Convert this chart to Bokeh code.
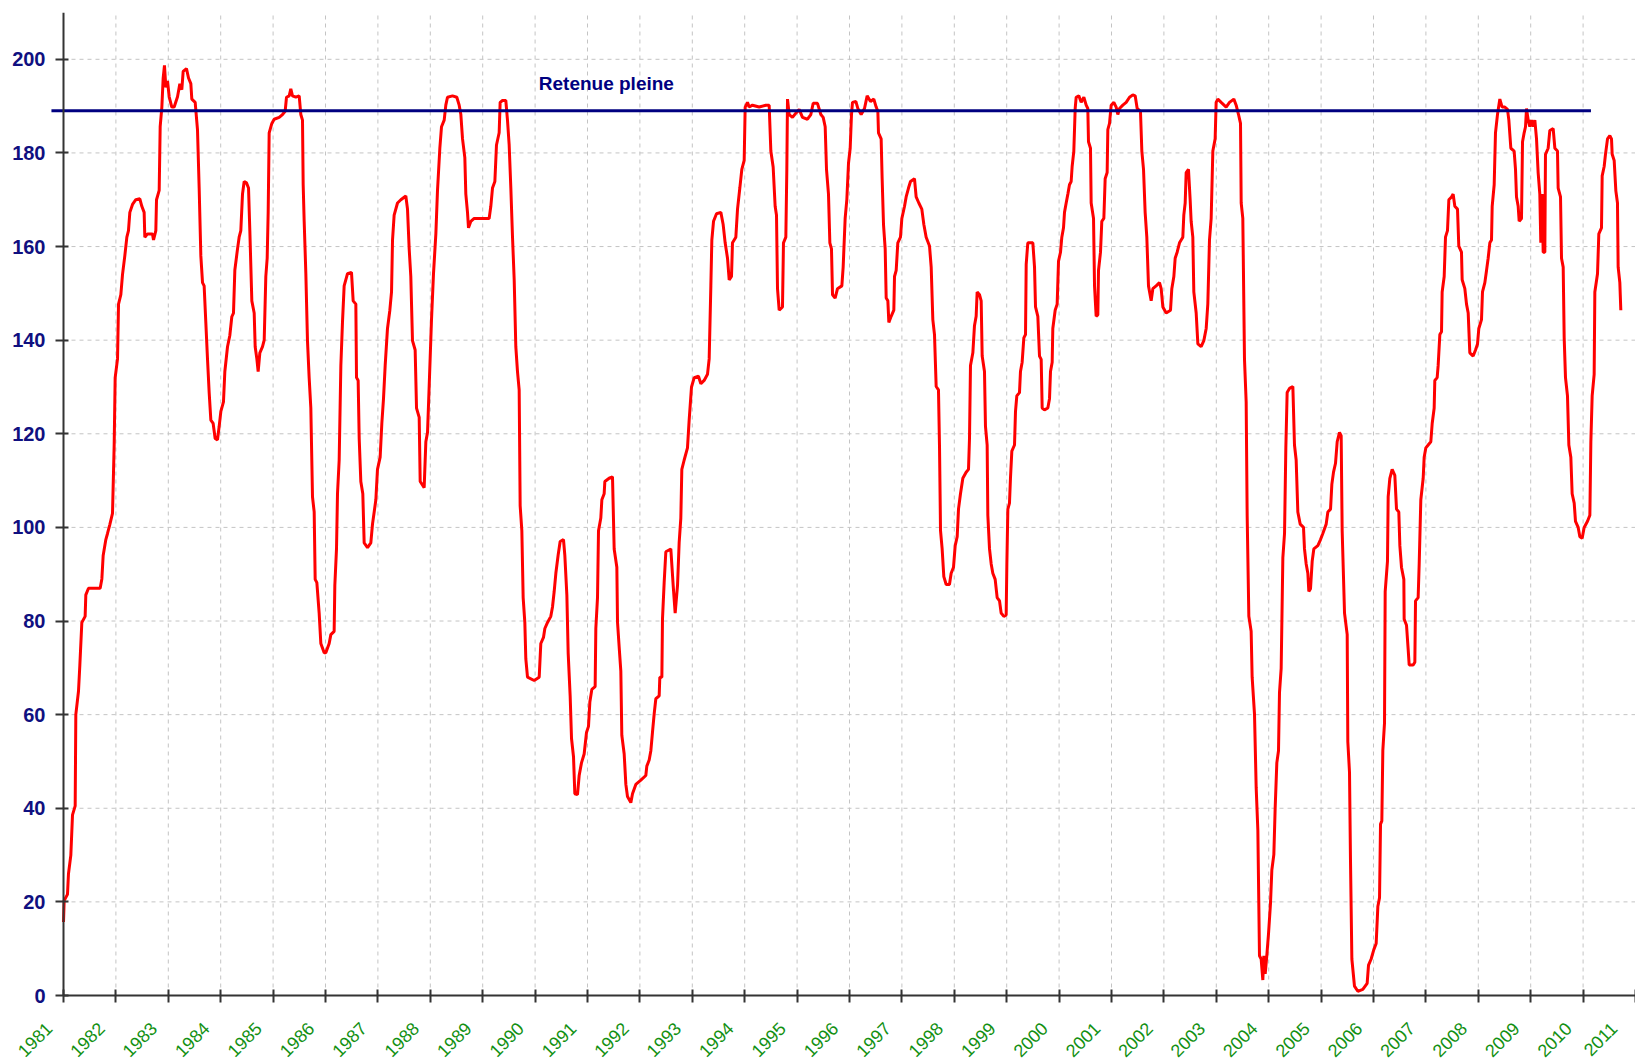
import math
from bokeh.plotting import figure
from bokeh.models import Range1d, FixedTicker
from bokeh.embed import file_html
from bokeh.resources import INLINE
from bokeh.core.properties import value

# ---------------- data ----------------
years = list(range(1981, 2012))
year_labels = [str(y) for y in years]
level_ticks = list(range(0, 201, 20))
level_top = 210

full_level = 189.0            # "Retenue pleine"
full_level_span = [1980.77, 2010.15]
full_level_label = "Retenue pleine"

# (decimal year, level)
seg_1981_1985 = [
    (1981.000, 15.7), (1981.013, 20.3), (1981.076, 21.6), (1981.095, 26.0), (1981.140, 30.0),
    (1981.172, 38.6), (1981.223, 40.5), (1981.235, 60.0), (1981.286, 65.0), (1981.312, 70.6),
    (1981.350, 79.7), (1981.413, 81.0), (1981.426, 85.6), (1981.477, 87.0), (1981.617, 87.0),
    (1981.700, 87.0), (1981.732, 89.0), (1981.757, 94.0), (1981.808, 97.4), (1981.840, 98.7),
    (1981.884, 100.6), (1981.935, 103.0), (1981.967, 117.6), (1981.986, 132.0), (1982.031, 136.0),
    (1982.050, 147.7), (1982.094, 149.7), (1982.126, 154.0), (1982.170, 158.0), (1982.209, 162.0),
    (1982.240, 163.4), (1982.266, 167.3), (1982.317, 169.0), (1982.380, 170.0), (1982.457, 170.2),
    (1982.495, 168.6), (1982.539, 167.3), (1982.552, 162.0), (1982.603, 162.7), (1982.698, 162.7),
    (1982.718, 161.4), (1982.762, 163.4), (1982.775, 170.0), (1982.826, 172.0), (1982.845, 185.6),
    (1982.877, 189.8), (1982.902, 196.0), (1982.927, 198.7), (1982.953, 194.0), (1982.985, 195.4),
    (1983.017, 192.0), (1983.067, 189.8), (1983.112, 189.8), (1983.176, 192.0), (1983.220, 194.8),
    (1983.258, 193.5), (1983.284, 197.4), (1983.347, 198.0), (1983.386, 196.0), (1983.430, 194.8),
    (1983.449, 191.5), (1983.513, 190.8), (1983.557, 185.0), (1983.589, 172.5), (1983.621, 158.0),
    (1983.653, 152.3), (1983.684, 151.6), (1983.716, 143.8), (1983.748, 136.0), (1983.780, 128.8),
    (1983.812, 122.9), (1983.856, 122.2), (1983.894, 119.0), (1983.939, 118.7), (1983.971, 121.6),
    (1984.003, 124.8), (1984.053, 126.8), (1984.079, 133.3), (1984.130, 138.6), (1984.174, 141.0),
    (1984.212, 145.0), (1984.244, 145.8), (1984.270, 155.0), (1984.321, 159.5), (1984.352, 162.0),
    (1984.384, 163.4), (1984.416, 171.2), (1984.448, 173.9), (1984.492, 173.6), (1984.531, 172.5),
    (1984.556, 163.4), (1984.594, 148.4), (1984.639, 145.8), (1984.658, 138.6), (1984.690, 136.0),
    (1984.715, 133.3), (1984.747, 137.3), (1984.798, 138.6), (1984.830, 140.0), (1984.861, 153.6),
    (1984.887, 157.5), (1984.906, 167.3), (1984.925, 184.3), (1984.976, 186.3), (1985.020, 187.2),
    (1985.116, 187.6), (1985.179, 188.2), (1985.230, 188.9), (1985.256, 191.9), (1985.307, 192.2),
    (1985.338, 193.7), (1985.370, 192.2), (1985.434, 191.9), (1985.498, 192.2), (1985.529, 188.2),
    (1985.561, 187.0), (1985.574, 173.2), (1985.593, 165.4), (1985.625, 154.2), (1985.656, 139.9),
    (1985.688, 132.0), (1985.720, 125.5), (1985.752, 106.5), (1985.784, 103.3), (1985.803, 88.9),
    (1985.835, 88.2), (1985.879, 81.7), (1985.911, 75.2), (1985.975, 73.2),
]

seg_1986_1990 = [
    (1986.006, 73.2), (1986.070, 75.2), (1986.102, 77.1), (1986.165, 77.8), (1986.178, 87.6),
    (1986.210, 95.4), (1986.229, 107.2), (1986.261, 114.4), (1986.293, 134.6), (1986.324, 143.8),
    (1986.356, 151.6), (1986.420, 154.2), (1986.496, 154.5), (1986.528, 148.4), (1986.579, 147.7),
    (1986.592, 132.0), (1986.623, 131.4), (1986.643, 119.0), (1986.674, 109.8), (1986.712, 107.2),
    (1986.738, 96.7), (1986.802, 95.7), (1986.865, 96.7), (1986.897, 100.7), (1986.929, 103.3),
    (1986.961, 105.9), (1986.992, 112.4), (1987.043, 115.0), (1987.075, 122.2), (1987.107, 127.5),
    (1987.139, 134.6), (1987.183, 142.5), (1987.228, 146.4), (1987.260, 150.3), (1987.279, 161.4),
    (1987.310, 166.7), (1987.374, 169.3), (1987.438, 170.0), (1987.533, 170.8), (1987.565, 168.0),
    (1987.597, 159.5), (1987.628, 153.6), (1987.660, 139.9), (1987.711, 137.9), (1987.737, 125.5),
    (1987.788, 123.5), (1987.807, 109.8), (1987.883, 108.5), (1987.915, 118.3), (1987.947, 120.3),
    (1987.978, 130.0), (1988.023, 144.4), (1988.061, 154.2), (1988.106, 162.7), (1988.137, 171.9),
    (1988.182, 181.0), (1988.214, 185.6), (1988.265, 187.0), (1988.296, 190.2), (1988.328, 191.9),
    (1988.424, 192.2), (1988.506, 191.9), (1988.551, 190.2), (1988.583, 188.2), (1988.615, 183.0),
    (1988.659, 179.0), (1988.678, 171.2), (1988.710, 167.3), (1988.729, 164.0), (1988.774, 165.4),
    (1988.837, 166.0), (1988.996, 166.0), (1989.123, 166.0), (1989.155, 168.6), (1989.187, 172.5),
    (1989.232, 173.9), (1989.263, 181.7), (1989.314, 184.3), (1989.333, 190.8), (1989.378, 191.2),
    (1989.441, 191.2), (1989.473, 187.0), (1989.505, 181.7), (1989.537, 172.5), (1989.569, 162.0),
    (1989.601, 152.9), (1989.632, 138.6), (1989.664, 133.3), (1989.696, 129.4), (1989.715, 104.6),
    (1989.747, 99.3), (1989.772, 85.0), (1989.804, 79.7), (1989.823, 71.9), (1989.855, 68.0),
    (1989.982, 67.3), (1990.078, 68.0), (1990.109, 75.2), (1990.160, 76.5), (1990.186, 78.4),
    (1990.237, 79.7), (1990.300, 81.0), (1990.332, 83.0), (1990.364, 86.3), (1990.396, 90.2),
    (1990.440, 94.1), (1990.478, 97.0), (1990.542, 97.4), (1990.567, 94.1), (1990.606, 85.6),
    (1990.631, 73.2), (1990.669, 64.0), (1990.695, 54.9), (1990.733, 51.0), (1990.758, 43.1),
    (1990.809, 42.9), (1990.841, 47.0), (1990.885, 49.7), (1990.936, 51.6), (1990.981, 56.2),
]

seg_1991_1995 = [
    (1991.019, 57.5), (1991.045, 62.7), (1991.083, 65.4), (1991.146, 66.0), (1991.159, 78.4),
    (1991.191, 85.0), (1991.210, 99.3), (1991.254, 102.0), (1991.274, 105.9), (1991.318, 107.2),
    (1991.331, 109.8), (1991.413, 110.5), (1991.477, 110.8), (1991.509, 95.4), (1991.560, 91.5),
    (1991.573, 79.7), (1991.604, 74.5), (1991.636, 69.3), (1991.655, 55.6), (1991.700, 51.6),
    (1991.732, 45.1), (1991.763, 42.5), (1991.827, 41.2), (1991.859, 43.1), (1991.922, 45.1),
    (1992.018, 46.0), (1992.113, 47.0), (1992.132, 49.0), (1992.177, 50.3), (1992.209, 52.3),
    (1992.240, 56.2), (1992.272, 60.1), (1992.304, 63.4), (1992.368, 64.0), (1992.380, 68.0),
    (1992.419, 68.0), (1992.431, 80.4), (1992.463, 88.2), (1992.495, 94.8), (1992.590, 95.4),
    (1992.635, 87.6), (1992.673, 81.7), (1992.718, 87.6), (1992.749, 96.7), (1992.781, 102.0),
    (1992.800, 112.4), (1992.845, 114.4), (1992.908, 117.0), (1992.940, 122.9), (1992.985, 130.0),
    (1993.036, 132.0), (1993.118, 132.3), (1993.163, 130.7), (1993.226, 131.4), (1993.290, 132.7),
    (1993.322, 136.0), (1993.354, 151.6), (1993.373, 161.4), (1993.405, 165.4), (1993.462, 167.0),
    (1993.545, 167.3), (1993.589, 164.7), (1993.627, 160.8), (1993.672, 157.5), (1993.704, 152.9),
    (1993.748, 153.6), (1993.767, 160.8), (1993.831, 162.0), (1993.863, 168.0), (1993.907, 172.5),
    (1993.945, 176.5), (1993.990, 178.4), (1994.009, 189.8), (1994.053, 190.8), (1994.085, 189.8),
    (1994.149, 190.2), (1994.276, 189.8), (1994.403, 190.2), (1994.467, 190.2), (1994.499, 180.4),
    (1994.543, 177.0), (1994.581, 168.6), (1994.607, 166.7), (1994.626, 151.0), (1994.658, 146.4),
    (1994.721, 147.1), (1994.740, 160.8), (1994.785, 162.0), (1994.804, 176.5), (1994.817, 191.5),
    (1994.849, 188.2), (1994.912, 187.6), (1994.976, 188.5), (1995.039, 189.3), (1995.103, 187.6),
    (1995.198, 187.2), (1995.262, 188.2), (1995.307, 190.6), (1995.389, 190.6), (1995.453, 188.2),
    (1995.498, 187.6), (1995.536, 185.6), (1995.561, 176.5), (1995.599, 171.2), (1995.625, 160.8),
    (1995.656, 159.5), (1995.676, 149.7), (1995.726, 149.0), (1995.771, 151.0), (1995.854, 151.6),
    (1995.879, 155.6), (1995.917, 166.0), (1995.949, 170.0), (1995.981, 177.8), (1996.013, 181.0),
    (1996.038, 188.2), (1996.057, 190.8), (1996.121, 191.0),
]

seg_1996_2000 = [
    (1996.159, 189.5), (1996.223, 188.2), (1996.286, 189.5), (1996.337, 192.2), (1996.401, 191.0),
    (1996.464, 191.5), (1996.509, 189.8), (1996.541, 188.9), (1996.553, 184.3), (1996.604, 183.0),
    (1996.623, 174.5), (1996.649, 164.7), (1996.681, 159.5), (1996.700, 149.0), (1996.732, 148.4),
    (1996.751, 143.8), (1996.795, 145.1), (1996.846, 146.4), (1996.859, 153.6), (1996.891, 154.9),
    (1996.922, 160.8), (1996.973, 162.0), (1996.999, 166.0), (1997.050, 168.6), (1997.081, 170.6),
    (1997.126, 172.5), (1997.164, 173.9), (1997.240, 174.5), (1997.272, 170.6), (1997.323, 169.3),
    (1997.380, 168.0), (1997.419, 164.7), (1997.463, 162.0), (1997.527, 160.1), (1997.559, 155.6),
    (1997.590, 144.4), (1997.622, 141.2), (1997.654, 130.1), (1997.698, 129.4), (1997.718, 117.0),
    (1997.737, 99.3), (1997.768, 95.4), (1997.800, 89.5), (1997.845, 87.8), (1997.908, 87.8),
    (1997.940, 90.2), (1997.985, 91.5), (1998.017, 96.1), (1998.055, 98.0), (1998.080, 103.9),
    (1998.118, 107.2), (1998.163, 110.5), (1998.226, 111.8), (1998.271, 112.4), (1998.290, 119.0),
    (1998.309, 134.6), (1998.354, 137.3), (1998.385, 143.1), (1998.417, 145.1), (1998.436, 150.3),
    (1998.481, 149.7), (1998.513, 148.4), (1998.532, 136.6), (1998.576, 133.3), (1998.595, 121.6),
    (1998.627, 117.6), (1998.640, 102.6), (1998.672, 95.4), (1998.704, 92.2), (1998.735, 90.2),
    (1998.780, 88.9), (1998.818, 85.0), (1998.863, 84.3), (1998.894, 81.7), (1998.945, 81.0),
    (1998.990, 81.3), (1999.003, 92.2), (1999.022, 103.9), (1999.053, 105.2), (1999.072, 110.5),
    (1999.098, 116.3), (1999.149, 117.6), (1999.168, 124.8), (1999.193, 128.1), (1999.244, 128.8),
    (1999.263, 133.3), (1999.295, 135.3), (1999.327, 140.5), (1999.359, 141.2), (1999.372, 156.2),
    (1999.403, 160.8), (1999.499, 160.8), (1999.531, 155.6), (1999.550, 147.1), (1999.594, 145.1),
    (1999.626, 136.6), (1999.658, 135.9), (1999.677, 125.5), (1999.721, 125.1), (1999.785, 125.5),
    (1999.817, 127.5), (1999.836, 133.3), (1999.868, 135.3), (1999.880, 142.5), (1999.925, 146.4),
    (1999.963, 147.7), (1999.989, 156.9), (2000.027, 158.8), (2000.052, 162.0), (2000.084, 164.0),
    (2000.103, 167.3), (2000.135, 169.3), (2000.167, 171.2), (2000.198, 173.2), (2000.230, 173.9),
    (2000.249, 177.1), (2000.281, 180.4), (2000.307, 189.5), (2000.326, 191.9), (2000.377, 192.2),
    (2000.421, 190.8), (2000.472, 191.9), (2000.517, 190.2), (2000.548, 189.5), (2000.561, 182.4),
    (2000.599, 181.0), (2000.612, 169.3), (2000.657, 166.0), (2000.676, 151.6), (2000.707, 145.1),
    (2000.739, 145.4), (2000.752, 154.9), (2000.790, 158.8), (2000.815, 165.4), (2000.854, 166.0),
    (2000.879, 174.5), (2000.917, 175.8), (2000.930, 185.0), (2000.962, 186.3), (2000.994, 190.2),
    (2001.045, 190.8), (2001.089, 189.8), (2001.121, 188.2), (2001.153, 189.5), (2001.216, 190.2),
    (2001.280, 190.8),
]

seg_2001_2005 = [
    (2001.344, 191.9), (2001.407, 192.4), (2001.452, 192.2), (2001.490, 189.5), (2001.553, 188.9),
    (2001.579, 180.4), (2001.611, 176.5), (2001.642, 167.3), (2001.674, 162.0), (2001.706, 151.6),
    (2001.757, 148.4), (2001.789, 151.0), (2001.852, 151.6), (2001.916, 152.3), (2001.948, 151.0),
    (2001.980, 147.1), (2002.043, 145.8), (2002.126, 146.4), (2002.151, 151.0), (2002.190, 153.6),
    (2002.215, 157.5), (2002.253, 158.8), (2002.298, 160.8), (2002.361, 162.0), (2002.380, 166.7),
    (2002.406, 169.3), (2002.425, 175.8), (2002.469, 176.5), (2002.501, 170.0), (2002.520, 165.4),
    (2002.552, 162.0), (2002.571, 150.3), (2002.616, 145.8), (2002.648, 139.2), (2002.711, 138.6),
    (2002.762, 139.9), (2002.807, 142.5), (2002.838, 147.7), (2002.870, 161.4), (2002.902, 166.0),
    (2002.934, 180.4), (2002.978, 183.0), (2002.997, 190.8), (2003.029, 191.5), (2003.093, 190.8),
    (2003.188, 189.8), (2003.252, 190.8), (2003.335, 191.5), (2003.379, 190.2), (2003.424, 188.2),
    (2003.462, 186.3), (2003.475, 169.3), (2003.506, 166.0), (2003.538, 135.9), (2003.570, 126.8),
    (2003.589, 102.6), (2003.621, 81.0), (2003.665, 77.8), (2003.684, 68.0), (2003.729, 60.1),
    (2003.761, 44.4), (2003.793, 35.3), (2003.824, 8.5), (2003.856, 7.8), (2003.888, 3.3),
    (2003.907, 8.5), (2003.933, 4.6), (2003.964, 8.5), (2003.996, 13.1), (2004.034, 19.6),
    (2004.060, 26.8), (2004.098, 30.1), (2004.123, 39.9), (2004.155, 49.7), (2004.187, 52.3),
    (2004.206, 64.7), (2004.238, 69.9), (2004.270, 93.5), (2004.302, 98.7), (2004.327, 117.0),
    (2004.352, 128.8), (2004.397, 129.7), (2004.461, 130.1), (2004.492, 117.6), (2004.524, 114.4),
    (2004.556, 103.3), (2004.601, 100.7), (2004.664, 100.0), (2004.683, 95.4), (2004.715, 92.2),
    (2004.747, 90.2), (2004.766, 86.3), (2004.798, 86.9), (2004.830, 92.8), (2004.861, 95.4),
    (2004.938, 96.1), (2004.989, 97.4), (2005.033, 98.7), (2005.097, 100.7), (2005.129, 103.3),
    (2005.180, 103.9), (2005.205, 109.2), (2005.237, 111.8), (2005.275, 113.7), (2005.307, 118.3),
    (2005.351, 120.3), (2005.383, 119.6), (2005.402, 99.3), (2005.447, 81.7), (2005.498, 77.1),
    (2005.510, 54.2), (2005.542, 47.7), (2005.561, 28.8), (2005.587, 7.8), (2005.637, 2.0),
    (2005.701, 0.9), (2005.796, 1.3), (2005.879, 2.6), (2005.905, 6.5), (2005.955, 7.8),
    (2006.006, 9.8), (2006.051, 11.1), (2006.083, 19.0), (2006.115, 20.9), (2006.134, 36.6),
    (2006.159, 37.3), (2006.178, 52.3), (2006.210, 58.2), (2006.223, 86.3),
]

seg_2006_2010 = [
    (2006.267, 92.8), (2006.280, 106.5), (2006.312, 110.5), (2006.356, 112.4), (2006.407, 111.1),
    (2006.439, 103.9), (2006.483, 103.3), (2006.503, 96.1), (2006.534, 91.5), (2006.579, 88.9),
    (2006.585, 80.4), (2006.630, 79.1), (2006.662, 73.9), (2006.681, 70.6), (2006.757, 70.6),
    (2006.789, 71.2), (2006.802, 84.3), (2006.852, 85.0), (2006.872, 92.2), (2006.903, 105.9),
    (2006.948, 110.5), (2006.967, 115.0), (2006.999, 117.0), (2007.043, 117.6), (2007.094, 118.3),
    (2007.120, 122.2), (2007.158, 125.5), (2007.170, 131.4), (2007.215, 132.0), (2007.234, 134.6),
    (2007.266, 141.2), (2007.298, 141.8), (2007.310, 150.3), (2007.349, 153.6), (2007.374, 162.0),
    (2007.412, 163.4), (2007.438, 170.0), (2007.489, 170.6), (2007.520, 171.2), (2007.552, 168.6),
    (2007.603, 168.0), (2007.628, 160.1), (2007.679, 158.8), (2007.692, 152.9), (2007.743, 151.0),
    (2007.775, 147.7), (2007.807, 145.8), (2007.838, 137.3), (2007.902, 136.6), (2007.947, 137.9),
    (2007.985, 139.2), (2008.010, 142.5), (2008.061, 144.4), (2008.080, 150.3), (2008.125, 152.3),
    (2008.157, 154.9), (2008.188, 157.5), (2008.220, 160.8), (2008.252, 161.4), (2008.265, 168.6),
    (2008.303, 173.2), (2008.328, 184.3), (2008.366, 188.2), (2008.411, 191.5), (2008.455, 189.8),
    (2008.506, 189.8), (2008.557, 189.3), (2008.583, 187.0), (2008.621, 181.0), (2008.684, 180.4),
    (2008.710, 176.5), (2008.729, 170.6), (2008.761, 168.6), (2008.780, 165.4), (2008.824, 166.0),
    (2008.844, 182.4), (2008.875, 184.3), (2008.901, 185.6), (2008.920, 189.5), (2008.952, 187.0),
    (2008.983, 185.6), (2009.015, 187.0), (2009.047, 185.6), (2009.079, 187.0), (2009.111, 183.0),
    (2009.142, 175.8), (2009.174, 171.2), (2009.193, 160.8), (2009.219, 171.2), (2009.238, 158.8),
    (2009.270, 158.8), (2009.282, 179.7), (2009.333, 181.0), (2009.365, 184.8), (2009.429, 185.2),
    (2009.461, 181.0), (2009.511, 180.4), (2009.524, 172.5), (2009.569, 170.6), (2009.588, 157.5),
    (2009.620, 155.6), (2009.639, 140.5), (2009.664, 132.0), (2009.702, 128.1), (2009.728, 117.6),
    (2009.766, 115.0), (2009.791, 107.2), (2009.830, 105.2), (2009.855, 101.3), (2009.906, 100.0),
    (2009.938, 98.0), (2009.982, 97.7), (2010.020, 100.0), (2010.084, 101.3), (2010.129, 102.6),
    (2010.148, 118.3), (2010.173, 128.1), (2010.211, 132.7), (2010.224, 150.3), (2010.275, 154.2),
    (2010.300, 162.7), (2010.351, 164.0), (2010.364, 175.1), (2010.402, 177.1), (2010.427, 179.7),
    (2010.466, 183.0), (2010.510, 183.7), (2010.542, 183.0), (2010.555, 179.7), (2010.593, 178.4),
    (2010.625, 171.9), (2010.656, 169.3), (2010.669, 155.6), (2010.701, 152.3), (2010.720, 146.4),
]

segments = [seg_1981_1985, seg_1986_1990, seg_1991_1995,
            seg_1996_2000, seg_2001_2005, seg_2006_2010]
dates = [d for seg in segments for d, _ in seg]
levels = [v for seg in segments for _, v in seg]

# ---------------- layout ----------------
FONT = "Liberation Sans"
NAVY = "#000080"
AXIS = "#333333"
GRID = "#c4c4c4"
W, H = 1635, 1061
AXIS_X = 63          # pixel column of the value axis
TOP = 12             # pixel row of the top of the value range
ZERO_Y = 995         # pixel row of level 0
px_per_year = (W - AXIS_X) / (years[-1] - years[0])
px_per_unit = (ZERO_Y - TOP) / level_top

# the frame covers the whole canvas; the axes are pinned at 1981 and 0
p = figure(
    width=W, height=H,
    x_range=Range1d(years[0] - AXIS_X / px_per_year, years[-1]),
    y_range=Range1d(-(H - ZERO_Y) / px_per_unit, level_top),
    output_backend="svg", toolbar_location=None,
    min_border_left=0, min_border_right=0, min_border_top=TOP, min_border_bottom=0,
)
p.background_fill_color = "white"
p.border_fill_color = "white"
p.outline_line_color = None
p.grid.visible = False

# dashed grid, limited to the data area
p.segment(x0=years, y0=[0] * len(years), x1=years, y1=[level_top] * len(years),
          line_color=GRID, line_dash="4 4", line_width=1)
p.segment(x0=[years[0]] * len(level_ticks), y0=level_ticks,
          x1=[years[-1]] * len(level_ticks), y1=level_ticks,
          line_color=GRID, line_dash="4 4", line_width=1)

# x axis pinned at level 0
p.xaxis.fixed_location = 0
p.xaxis.bounds = (years[0], years[-1])
p.xaxis.ticker = FixedTicker(ticks=years)
PAD = "\u00a0" * 4   # pushes the rotated year labels down-left of their tick
p.xaxis.major_label_overrides = {y: lab + PAD for y, lab in zip(years, year_labels)}
p.xaxis.major_label_orientation = math.pi / 4
p.xaxis.major_label_text_color = "#129012"
p.xaxis.major_label_text_font = FONT
p.xaxis.major_label_text_font_size = "18px"
p.xaxis.major_label_standoff = 9

# y axis pinned at 1981
p.yaxis.fixed_location = years[0]
p.yaxis.bounds = (0, level_top)
p.yaxis.ticker = FixedTicker(ticks=level_ticks)
p.yaxis.major_label_text_color = "#101080"
p.yaxis.major_label_text_font = FONT
p.yaxis.major_label_text_font_size = "20px"
p.yaxis.major_label_text_font_style = "bold"
p.yaxis.major_label_standoff = 10

for ax in (p.xaxis, p.yaxis):
    ax.axis_line_color = AXIS
    ax.axis_line_width = 2
    ax.major_tick_line_color = AXIS
    ax.major_tick_line_width = 2
    ax.minor_tick_line_color = None
p.xaxis.major_tick_in = 6
p.xaxis.major_tick_out = 7
p.yaxis.major_tick_in = 5
p.yaxis.major_tick_out = 8

# level series
p.line(dates, levels, line_color="#ff0000", line_width=3)

# full-reservoir line and its label (over the series)
p.line(full_level_span, [full_level, full_level], line_color=NAVY, line_width=3)
p.text(x=[1990.07], y=[194.9], text=[full_level_label],
       text_font=value(FONT), text_font_style="bold", text_font_size="19px",
       text_color=NAVY, text_align="left", text_baseline="alphabetic")

open("out.html", "w").write(file_html(p, INLINE))
